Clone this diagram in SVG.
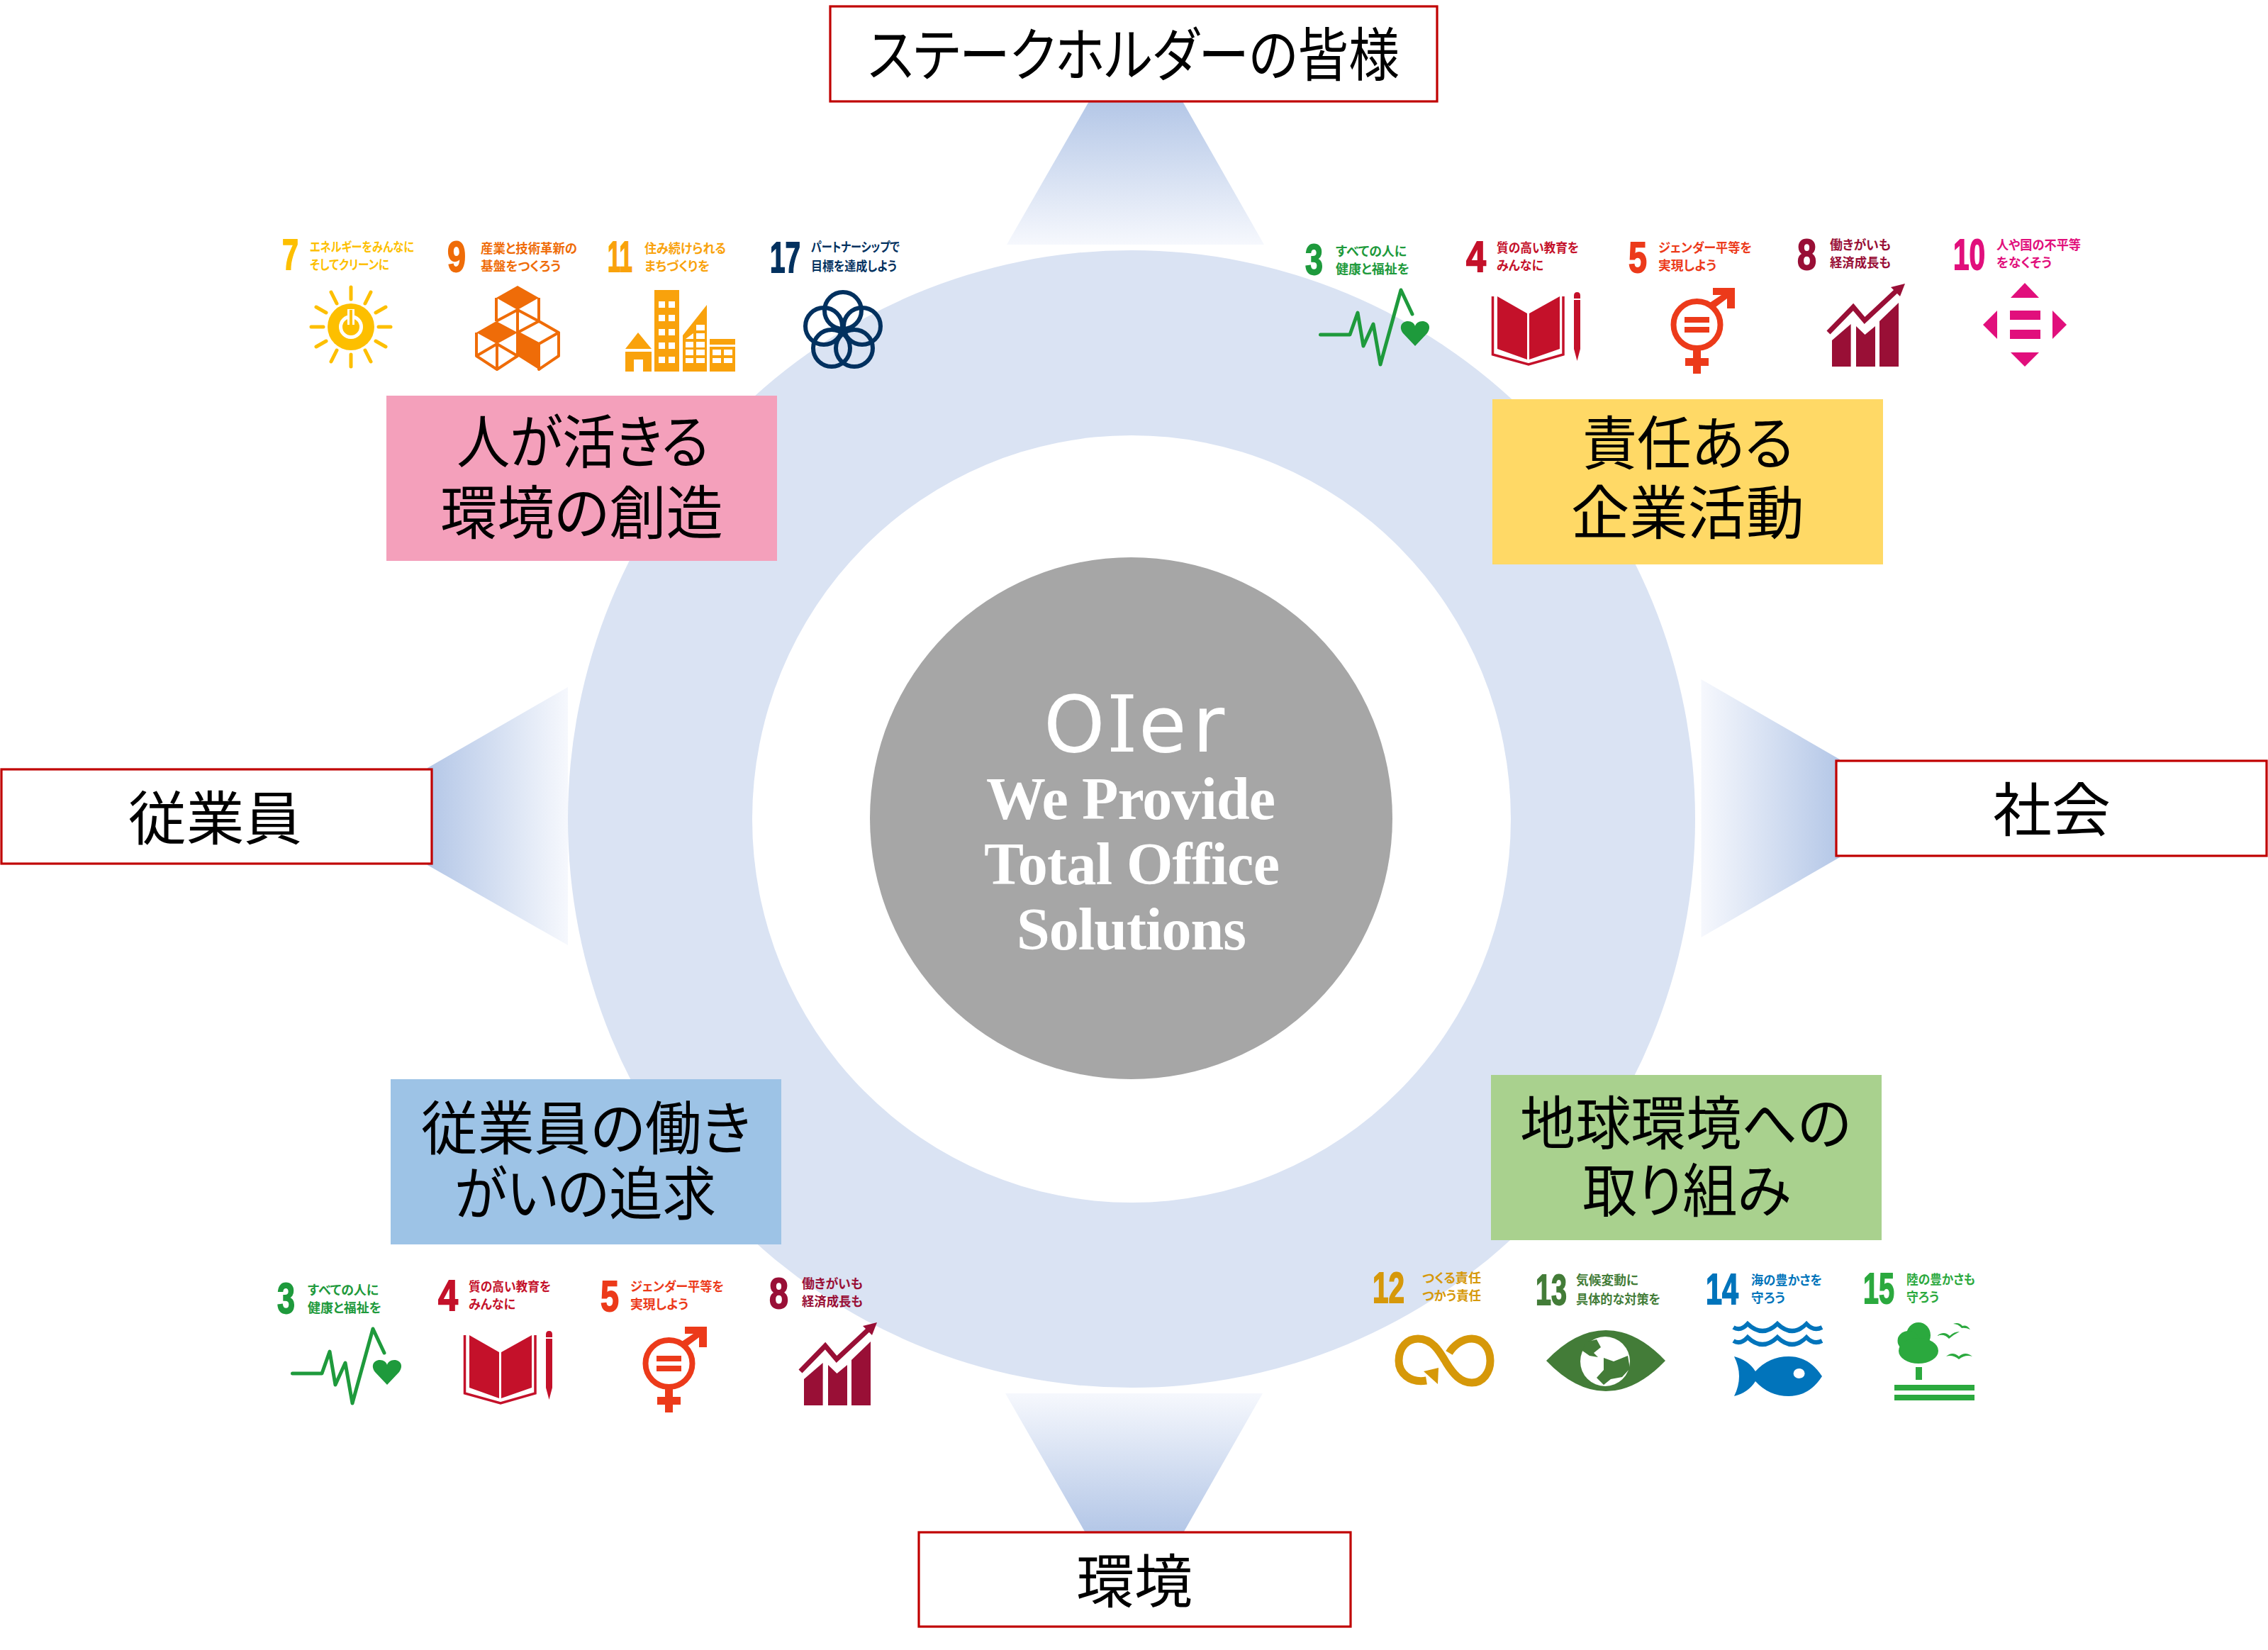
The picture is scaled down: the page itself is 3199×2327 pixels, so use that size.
<svg xmlns="http://www.w3.org/2000/svg" xmlns:xlink="http://www.w3.org/1999/xlink" width="3199" height="2327" viewBox="0 0 3199 2327">
<style>
text{font-family:"Noto Sans CJK JP","Noto Sans",sans-serif;font-feature-settings:"palt"}
.lb{font-size:82px;fill:#000}
.box{fill:#fff;stroke:#C00000;stroke-width:3.2}
.n{font-family:"Liberation Sans",Arial,sans-serif;font-weight:700;font-size:62px;stroke-width:1.8}
.t{font-size:18px;font-weight:700}
.c3{fill:#1E9A3C}.c4{fill:#C4112A}.c5{fill:#EC3A1A}.c7{fill:#FDBF00}.c8{fill:#990F36}.c9{fill:#EF6C08}.c10{fill:#E10F7C}.c11{fill:#F9A20C}.c12{fill:#D69809}.c13{fill:#437C38}.c14{fill:#0174BB}.c15{fill:#2BA93E}.c17{fill:#02315F}
.n.c3{stroke:#1E9A3C}.n.c4{stroke:#C4112A}.n.c5{stroke:#EC3A1A}.n.c7{stroke:#FDBF00}.n.c8{stroke:#990F36}.n.c9{stroke:#EF6C08}.n.c10{stroke:#E10F7C}.n.c11{stroke:#F9A20C}.n.c12{stroke:#D69809}.n.c13{stroke:#437C38}.n.c14{stroke:#0174BB}.n.c15{stroke:#2BA93E}.n.c17{stroke:#02315F}
.m{fill:#fff;font-family:"Liberation Serif","Times New Roman",serif;font-weight:700;font-size:84px}
</style>
<defs>
<linearGradient id="gT" x1="0" y1="0" x2="0" y2="1"><stop offset="0" stop-color="#B4C7E7"/><stop offset="1" stop-color="#F6F8FD"/></linearGradient>
<linearGradient id="gB" x1="0" y1="1" x2="0" y2="0"><stop offset="0" stop-color="#B4C7E7"/><stop offset="1" stop-color="#F6F8FD"/></linearGradient>
<linearGradient id="gL" x1="0" y1="0" x2="1" y2="0"><stop offset="0" stop-color="#B4C7E7"/><stop offset="1" stop-color="#F6F8FD"/></linearGradient>
<linearGradient id="gR" x1="1" y1="0" x2="0" y2="0"><stop offset="0" stop-color="#B4C7E7"/><stop offset="1" stop-color="#F6F8FD"/></linearGradient>
<g id="icon3">
<polyline points="1862.5,472 1904,472 1915,441 1923,488 1937,457 1947,514 1976,409 1992,443" fill="none" stroke="#1E9A3C" stroke-width="5" stroke-linejoin="round" stroke-linecap="round"/>
<path class="c3" d="M1996,488 L1979,470 C1972,460 1978,453 1986,453 C1991,453 1995,456 1996,460 C1997,456 2001,453 2006,453 C2014,453 2020,460 2013,470 Z"/>
</g>
<g id="icon4">
<polygon class="c4" points="2112,418 2154,442 2154,507 2112,492"/>
<polygon class="c4" points="2157,442 2200,418 2200,492 2157,507"/>
<polyline points="2105.5,418 2105.5,500 2156,514 2205,500 2205,418" fill="none" stroke="#C4112A" stroke-width="3.5"/>
<path class="c4" d="M2220,417 Q2220,412 2224.5,412 Q2229,412 2229,417 V492 L2224.5,509 L2220,492 Z"/>
<rect x="2220" y="421" width="9" height="2" fill="#fff"/>
</g>
<g id="icon5">
<ellipse cx="2393.5" cy="458" rx="33" ry="33" fill="none" stroke="#EC3A1A" stroke-width="8"/>
<path class="c5" d="M2416,406 H2447 V435 H2436 V421 L2416,436 L2410,428 L2428,416 H2416 Z"/>
<rect class="c5" x="2388" y="493" width="11" height="34"/>
<rect class="c5" x="2377" y="505" width="33" height="11"/>
<rect class="c5" x="2376" y="447" width="35" height="8"/>
<rect class="c5" x="2376" y="461" width="35" height="8"/>
</g>
<g id="icon8">
<path class="c8" d="M2584,480 L2610.6,457 V517 H2584 Z"/>
<path class="c8" d="M2618,460 L2630.5,472 L2645,460 V517 H2618 Z"/>
<path class="c8" d="M2651,453 L2678,427 V517 H2651 Z"/>
<polyline points="2579,469 2614,433 2630,452 2675,410" fill="none" stroke="#990F36" stroke-width="7"/>
<polygon class="c8" points="2687,400 2667,405 2680,418"/>
</g>
</defs>
<g id="ring">
<ellipse cx="1596" cy="1155" rx="795" ry="802" fill="#DAE3F3"/>
<ellipse cx="1596" cy="1155" rx="535" ry="541" fill="#fff"/>
</g>
<g id="connectors">
<polygon points="1536,143 1668,143 1783,345 1420,345" fill="url(#gT)"/>
<polygon points="1530,2160 1670,2160 1781,1965 1418,1965" fill="url(#gB)"/>
<polygon points="603,1083 801,969 801,1333 603,1220" fill="url(#gL)"/>
<polygon points="2595,1071 2399.5,958 2399.5,1322 2595,1209" fill="url(#gR)"/>
</g>
<g id="core">
<ellipse cx="1595.5" cy="1154" rx="368.5" ry="368" fill="#A6A6A6"/>
<text y="1060" font-size="110" fill="#fff" style="font-family:'DejaVu Sans',sans-serif"><tspan x="1472">O</tspan><tspan x="1561" style="font-family:'DejaVu Serif',serif">I</tspan><tspan x="1606">e</tspan><tspan x="1682">r</tspan></text>
<text class="m" x="1391" y="1155" textLength="408">We Provide</text>
<text class="m" x="1388" y="1247" textLength="417">Total Office</text>
<text class="m" x="1434" y="1339" textLength="324">Solutions</text>
</g>
<g id="stakeholders">
<rect class="box" x="1171" y="9" width="856" height="134"/>
<text class="lb" x="1224" y="107" textLength="750" lengthAdjust="spacingAndGlyphs">ステークホルダーの皆様</text>
</g>
<g id="employees">
<rect class="box" x="2" y="1085" width="607" height="133"/>
<text class="lb" x="181" y="1184" textLength="245" lengthAdjust="spacingAndGlyphs">従業員</text>
</g>
<g id="society">
<rect class="box" x="2590" y="1073" width="607" height="134"/>
<text class="lb" x="2811" y="1172" textLength="166" lengthAdjust="spacingAndGlyphs">社会</text>
</g>
<g id="environment">
<rect class="box" x="1296" y="2161" width="609" height="133"/>
<text class="lb" x="1518" y="2260" textLength="164" lengthAdjust="spacingAndGlyphs">環境</text>
</g>
<g id="people">
<rect x="545" y="558" width="551" height="233" fill="#F4A0BB"/>
<text class="lb"><tspan x="644" y="653" textLength="356" lengthAdjust="spacingAndGlyphs">人が活きる</tspan><tspan x="621" y="753" textLength="399" lengthAdjust="spacingAndGlyphs">環境の創造</tspan></text>
</g>
<g id="responsibility">
<rect x="2105" y="563" width="551" height="233" fill="#FFD966"/>
<text class="lb"><tspan x="2232" y="655" textLength="298" lengthAdjust="spacingAndGlyphs">責任ある</tspan><tspan x="2216" y="753" textLength="329" lengthAdjust="spacingAndGlyphs">企業活動</tspan></text>
</g>
<g id="worthwhile">
<rect x="551" y="1522" width="551" height="233" fill="#9DC3E6"/>
<text class="lb"><tspan x="594" y="1621" textLength="465" lengthAdjust="spacingAndGlyphs">従業員の働き</tspan><tspan x="641" y="1713" textLength="369" lengthAdjust="spacingAndGlyphs">がいの追求</tspan></text>
</g>
<g id="earth">
<rect x="2103" y="1516" width="551" height="233" fill="#A9D18E"/>
<text class="lb"><tspan x="2144" y="1614" textLength="467" lengthAdjust="spacingAndGlyphs">地球環境への</tspan><tspan x="2232" y="1709" textLength="294" lengthAdjust="spacingAndGlyphs">取り組み</tspan></text>
</g>
<g id="sdg7" class="c7">
<text class="n c7" x="398" y="380" textLength="23" lengthAdjust="spacingAndGlyphs">7</text>
<text class="t c7"><tspan x="437" y="355" textLength="147" lengthAdjust="spacingAndGlyphs">エネルギーをみんなに</tspan><tspan x="437" y="380" textLength="112" lengthAdjust="spacingAndGlyphs">そしてクリーンに</tspan></text>
<circle cx="495" cy="461" r="33"/>
<circle cx="495" cy="461" r="14.5" fill="none" stroke="#fff" stroke-width="5"/>
<rect x="490" y="436" width="10" height="22" fill="#fff"/>
<rect x="493" y="437" width="4" height="21"/>
<g stroke="#FDBF00" stroke-width="5" stroke-linecap="round">
<line x1="495" y1="405" x2="495" y2="422"/><line x1="495" y1="500" x2="495" y2="517"/>
<line x1="439" y1="461" x2="456" y2="461"/><line x1="534" y1="461" x2="551" y2="461"/>
<line x1="467" y1="412" x2="475" y2="428"/><line x1="523" y1="412" x2="515" y2="428"/>
<line x1="467" y1="510" x2="475" y2="494"/><line x1="523" y1="510" x2="515" y2="494"/>
<line x1="446" y1="433" x2="460" y2="441"/><line x1="544" y1="433" x2="530" y2="441"/>
<line x1="446" y1="489" x2="460" y2="481"/><line x1="544" y1="489" x2="530" y2="481"/>
</g>
</g>
<g id="sdg9" class="c9">
<text class="n c9" x="631" y="383" textLength="26" lengthAdjust="spacingAndGlyphs">9</text>
<text class="t c9"><tspan x="678" y="357" textLength="136" lengthAdjust="spacingAndGlyphs">産業と技術革新の</tspan><tspan x="678" y="382" textLength="113" lengthAdjust="spacingAndGlyphs">基盤をつくろう</tspan></text>
<polygon points="730,403 760,420 730,437 700,420"/>
<polygon points="700,453 730,469 701,485 672,469"/>
<polygon points="730,469 760,485 760,521 730,502"/>
<g fill="none" stroke="#EF6C08" stroke-width="4" stroke-linejoin="round">
<path d="M700,420 V453 M760,420 V453 M730,437 V469 M700,453 L730,437 L760,453 M730,469 L760,453 L788,469 L760,485 L730,469"/>
<path d="M672,469 V502 L701,521 L730,502 V469 M701,485 V521 M672,502 L701,485 M788,469 V502 L760,521 V485 M701,485 L730,502"/>
</g>
</g>
<g id="sdg11" class="c11">
<text class="n c11" x="857" y="383" textLength="35" lengthAdjust="spacingAndGlyphs">11</text>
<text class="t c11"><tspan x="909" y="357" textLength="115" lengthAdjust="spacingAndGlyphs">住み続けられる</tspan><tspan x="909" y="382" textLength="92" lengthAdjust="spacingAndGlyphs">まちづくりを</tspan></text>
<rect x="923" y="409" width="35" height="115"/>
<polygon points="997,430 963,473 963,524 997,524"/>
<rect x="1001" y="478" width="36" height="8"/>
<rect x="1001" y="489" width="36" height="35"/>
<polygon points="900,469 919,492 882,492"/>
<path d="M882,496 H919 V524 H907 V507 H894 V524 H882 Z"/>
<g fill="#fff">
<rect x="929" y="425" width="9" height="9"/><rect x="943" y="425" width="9" height="9"/>
<rect x="929" y="444" width="9" height="9"/><rect x="943" y="444" width="9" height="9"/>
<rect x="929" y="464" width="9" height="9"/><rect x="943" y="464" width="9" height="9"/>
<rect x="929" y="483" width="9" height="9"/><rect x="943" y="483" width="9" height="9"/>
<rect x="929" y="503" width="9" height="9"/><rect x="943" y="503" width="9" height="9"/>
<rect x="982" y="458" width="12" height="8"/><rect x="982" y="470" width="12" height="8"/><polygon points="978,470 978,478 967,478"/>
<rect x="967" y="482" width="11" height="8"/><rect x="982" y="482" width="12" height="8"/>
<rect x="967" y="493" width="11" height="8"/><rect x="982" y="493" width="12" height="8"/>
<rect x="967" y="505" width="11" height="7"/><rect x="982" y="505" width="12" height="7"/>
<rect x="1005" y="493" width="12" height="8"/><rect x="1021" y="493" width="12" height="8"/>
<rect x="1005" y="505" width="12" height="7"/><rect x="1021" y="505" width="12" height="7"/>
</g>
</g>
<g id="sdg17" class="c17">
<text class="n c17" x="1086" y="384" textLength="43" lengthAdjust="spacingAndGlyphs">17</text>
<text class="t c17"><tspan x="1144" y="355" textLength="125" lengthAdjust="spacingAndGlyphs">パートナーシップで</tspan><tspan x="1144" y="382" textLength="121" lengthAdjust="spacingAndGlyphs">目標を達成しよう</tspan></text>
<g fill="none" stroke="#02315F" stroke-width="6">
<circle cx="1189" cy="438" r="26"/><circle cx="1162" cy="460" r="26"/><circle cx="1216" cy="460" r="26"/><circle cx="1173" cy="491" r="26"/><circle cx="1205" cy="491" r="26"/>
</g>
</g>
<g id="sdg3-top">
<text class="n c3" x="1841" y="387" textLength="25" lengthAdjust="spacingAndGlyphs">3</text>
<text class="t c3"><tspan x="1884" y="361" textLength="100" lengthAdjust="spacingAndGlyphs">すべての人に</tspan><tspan x="1884" y="386" textLength="104" lengthAdjust="spacingAndGlyphs">健康と福祉を</tspan></text>
<use href="#icon3"/>
</g>
<g id="sdg4-top">
<text class="n c4" x="2068" y="383" textLength="28" lengthAdjust="spacingAndGlyphs">4</text>
<text class="t c4"><tspan x="2111" y="356" textLength="116" lengthAdjust="spacingAndGlyphs">質の高い教育を</tspan><tspan x="2111" y="381" textLength="66" lengthAdjust="spacingAndGlyphs">みんなに</tspan></text>
<use href="#icon4"/>
</g>
<g id="sdg5-top">
<text class="n c5" x="2297" y="384" textLength="26" lengthAdjust="spacingAndGlyphs">5</text>
<text class="t c5"><tspan x="2339" y="356" textLength="132" lengthAdjust="spacingAndGlyphs">ジェンダー平等を</tspan><tspan x="2339" y="381" textLength="82" lengthAdjust="spacingAndGlyphs">実現しよう</tspan></text>
<use href="#icon5"/>
</g>
<g id="sdg8-top">
<text class="n c8" x="2535" y="380" textLength="27" lengthAdjust="spacingAndGlyphs">8</text>
<text class="t c8"><tspan x="2581" y="352" textLength="86" lengthAdjust="spacingAndGlyphs">働きがいも</tspan><tspan x="2581" y="377" textLength="86" lengthAdjust="spacingAndGlyphs">経済成長も</tspan></text>
<use href="#icon8"/>
</g>
<g id="sdg10" class="c10">
<text class="n c10" x="2755" y="380" textLength="45" lengthAdjust="spacingAndGlyphs">10</text>
<text class="t c10"><tspan x="2816" y="352" textLength="119" lengthAdjust="spacingAndGlyphs">人や国の不平等</tspan><tspan x="2816" y="377" textLength="78" lengthAdjust="spacingAndGlyphs">をなくそう</tspan></text>
<polygon points="2856,399 2876,420 2836,420"/>
<polygon points="2856,517 2876,497 2836,497"/>
<polygon points="2797,458 2817,438 2817,478"/>
<polygon points="2915,458 2895,438 2895,478"/>
<rect x="2835" y="438" width="43" height="13"/>
<rect x="2835" y="465" width="43" height="13"/>
</g>
<g id="sdg3-bottom">
<text class="n c3" x="391" y="1852" textLength="25" lengthAdjust="spacingAndGlyphs">3</text>
<text class="t c3"><tspan x="434" y="1826" textLength="100" lengthAdjust="spacingAndGlyphs">すべての人に</tspan><tspan x="434" y="1851" textLength="104" lengthAdjust="spacingAndGlyphs">健康と福祉を</tspan></text>
<use href="#icon3" x="-1450" y="1465"/>
</g>
<g id="sdg4-bottom">
<text class="n c4" x="618" y="1848" textLength="28" lengthAdjust="spacingAndGlyphs">4</text>
<text class="t c4"><tspan x="661" y="1821" textLength="116" lengthAdjust="spacingAndGlyphs">質の高い教育を</tspan><tspan x="661" y="1846" textLength="66" lengthAdjust="spacingAndGlyphs">みんなに</tspan></text>
<use href="#icon4" x="-1450" y="1465"/>
</g>
<g id="sdg5-bottom">
<text class="n c5" x="847" y="1849" textLength="26" lengthAdjust="spacingAndGlyphs">5</text>
<text class="t c5"><tspan x="889" y="1821" textLength="132" lengthAdjust="spacingAndGlyphs">ジェンダー平等を</tspan><tspan x="889" y="1846" textLength="82" lengthAdjust="spacingAndGlyphs">実現しよう</tspan></text>
<use href="#icon5" x="-1450" y="1465"/>
</g>
<g id="sdg8-bottom">
<text class="n c8" x="1085" y="1845" textLength="27" lengthAdjust="spacingAndGlyphs">8</text>
<text class="t c8"><tspan x="1131" y="1817" textLength="86" lengthAdjust="spacingAndGlyphs">働きがいも</tspan><tspan x="1131" y="1842" textLength="86" lengthAdjust="spacingAndGlyphs">経済成長も</tspan></text>
<use href="#icon8" x="-1450" y="1465"/>
</g>
<g id="sdg12">
<text class="n c12" x="1936" y="1837" textLength="45" lengthAdjust="spacingAndGlyphs">12</text>
<text class="t c12"><tspan x="2006" y="1809" textLength="83" lengthAdjust="spacingAndGlyphs">つくる責任</tspan><tspan x="2006" y="1834" textLength="83" lengthAdjust="spacingAndGlyphs">つかう責任</tspan></text>
<path d="M2012,1947 C1988,1951 1973,1936 1973,1919 C1973,1900 1985,1888 2000,1888 C2020,1888 2030,1905 2040,1922 C2050,1938 2060,1950 2076,1950 C2092,1950 2102,1935 2102,1919 C2102,1900 2090,1888 2076,1888 C2062,1888 2050,1898 2044,1908" fill="none" stroke="#D69809" stroke-width="11"/>
<polygon class="c12" points="2008,1934 2029,1929 2028,1952"/>
</g>
<g id="sdg13">
<text class="n c13" x="2166" y="1840" textLength="44" lengthAdjust="spacingAndGlyphs">13</text>
<text class="t c13"><tspan x="2223" y="1812" textLength="88" lengthAdjust="spacingAndGlyphs">気候変動に</tspan><tspan x="2223" y="1839" textLength="119" lengthAdjust="spacingAndGlyphs">具体的な対策を</tspan></text>
<path class="c13" d="M2181,1919 Q2222,1876 2265,1876 Q2308,1876 2349,1919 Q2308,1962 2265,1962 Q2222,1962 2181,1919 Z"/>
<ellipse cx="2264" cy="1920" rx="35" ry="35" fill="#fff"/>
<polygon class="c13" points="2236,1893 2252,1889 2258,1900 2248,1908 2254,1914 2242,1912 2232,1905"/>
<polygon class="c13" points="2262,1915 2276,1920 2296,1912 2299,1930 2288,1942 2272,1945 2262,1953 2252,1943 2262,1932"/>
</g>
<g id="sdg14">
<text class="n c14" x="2406" y="1839" textLength="46" lengthAdjust="spacingAndGlyphs">14</text>
<text class="t c14"><tspan x="2470" y="1812" textLength="100" lengthAdjust="spacingAndGlyphs">海の豊かさを</tspan><tspan x="2470" y="1837" textLength="48" lengthAdjust="spacingAndGlyphs">守ろう</tspan></text>
<g fill="none" stroke="#0174BB" stroke-width="6">
<path d="M2445,1872 Q2455,1878 2465,1867 Q2486,1887 2507,1867 Q2528,1887 2548,1867 Q2558,1878 2570,1872"/>
<path d="M2445,1891 Q2455,1897 2465,1886 Q2486,1906 2507,1886 Q2528,1906 2548,1886 Q2558,1897 2570,1891"/>
</g>
<path class="c14" d="M2446,1913 Q2466,1918 2476,1934 Q2495,1913 2523,1913 Q2552,1913 2570,1941 Q2552,1969 2523,1969 Q2495,1969 2476,1948 Q2466,1964 2446,1969 Q2460,1941 2446,1913 Z"/>
<ellipse cx="2537.6" cy="1937" rx="8" ry="7" fill="#fff"/>
</g>
<g id="sdg15">
<text class="n c15" x="2628" y="1838" textLength="44" lengthAdjust="spacingAndGlyphs">15</text>
<text class="t c15"><tspan x="2689" y="1811" textLength="97" lengthAdjust="spacingAndGlyphs">陸の豊かさも</tspan><tspan x="2689" y="1836" textLength="46" lengthAdjust="spacingAndGlyphs">守ろう</tspan></text>
<g class="c15">
<ellipse cx="2706" cy="1883" rx="17" ry="18"/>
<ellipse cx="2692" cy="1891" rx="15.5" ry="14"/>
<ellipse cx="2706" cy="1905" rx="28" ry="18"/>
<rect x="2702" y="1928" width="9" height="18"/>
<rect x="2672" y="1953" width="113" height="8"/>
<rect x="2672" y="1967" width="113" height="8"/>
<path d="M2732,1884 Q2742,1876 2750,1884 Q2756,1878 2764,1878 Q2756,1882 2749,1888 Q2742,1880 2732,1884 Z"/>
<path d="M2755,1867 Q2763,1864 2768,1870 Q2774,1868 2779,1875 Q2772,1872 2767,1873 Q2762,1867 2755,1867 Z"/>
<path d="M2745,1913 Q2754,1905 2763,1913 Q2772,1905 2782,1913 Q2772,1910 2763,1917 Q2754,1910 2745,1913 Z"/>
</g>
</g>
</svg>
